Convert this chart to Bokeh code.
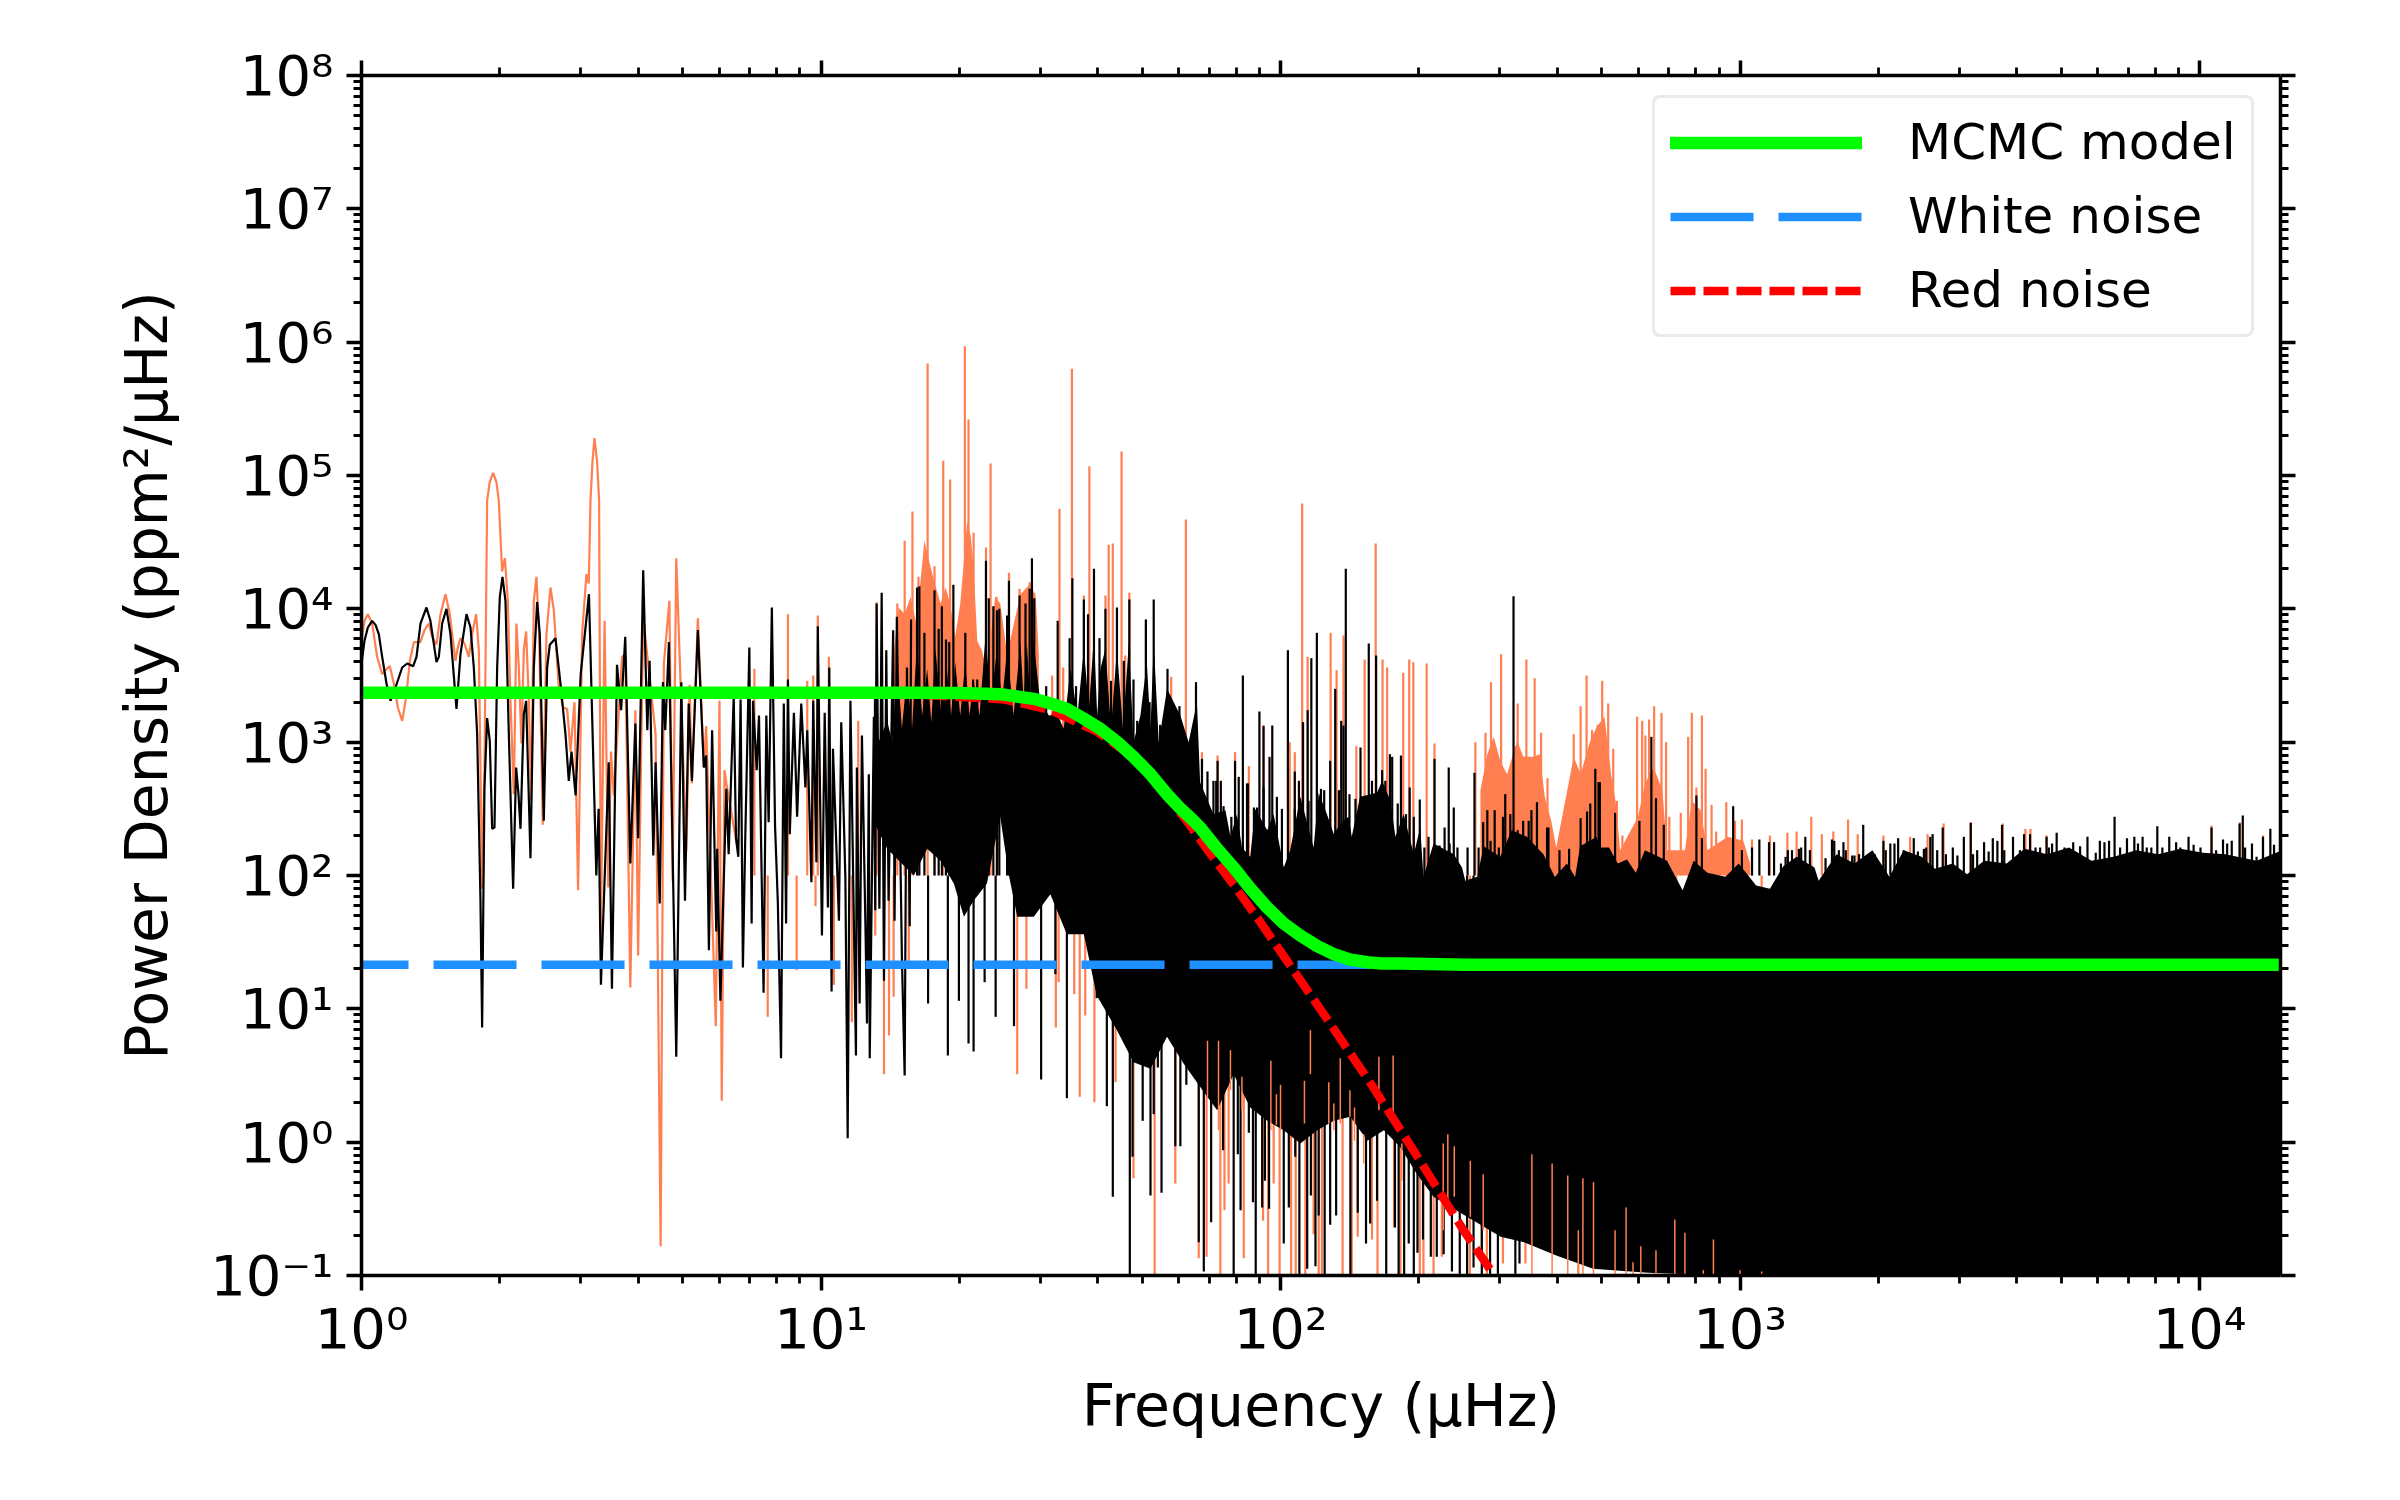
import numpy as np
from bokeh.embed import file_html
from bokeh.models import FixedTicker, Legend, LegendItem, LogAxis
from bokeh.plotting import figure
from bokeh.resources import INLINE

# everything, as log10(frequency) and log10(power)

# low frequency part of the raw spectrum, drawn as a line
coral_line_logf = [0, .0065, .0138, .0232, .0341, .045, .0522, .0617, .0704, .0791, .0885, .0972, .1052, .114, .128, .1371, .1465, .1537, .1632, .1719, .1828, .1922, .2045, .2096, .2154, .2241, .2335, .2408, .2495, .2553, .2625, .2676, .2734, .279, .2865, .2937, .2988, .306, .312, .3184, .3242, .3314, .3372, .3423, .3481, .3532, .3583, .3641, .3692, .375, .3808, .3866, .3945, .4025, .4112, .4185, .4294, .4388, .4475, .4548, .4635, .4714, .4801, .4895, .4946, .4983, .5026, .507, .5128, .5171, .521,
                   .529, .537, .543, .549, .567, .574, .585, .596, .602, .613, .640, .651, .658, .670, .677, .685, .707, .714, .719, .732, .745, .750, .771, .779, .784, .790, .794, .819]
coral_line_logp = [3.76, 3.91, 3.96, 3.89, 3.64, 3.51, 3.54, 3.57, 3.44, 3.26, 3.16, 3.34, 3.61, 3.75, 3.75, 3.84, 3.89, 3.79, 3.73, 3.96, 4.11, 3.96, 3.61, 3.71, 3.78, 3.74, 3.64, 3.81, 3.96, 3.69, 1.90, 2.81, 4.81, 4.95, 5.02, 4.95, 4.81, 4.28, 4.38, 4.06, 3.31, 2.61, 3.89, 3.56, 2.99, 3.69, 3.83, 3.31, 2.56, 4.06, 4.24, 3.81, 2.38, 3.81, 4.16, 3.99, 3.41, 3.26, 3.25, 2.93, 3.30, 1.89, 3.81, 4.26, 4.19, 4.81, 5.1, 5.28, 5.1, 4.81, 1.56,
                   3.91, 1.91, 2.93, 2.60, 3.64, 3.66, 1.16, 3.24, 1.40, 3.94, 3.06, -.78, 3.59, 4.06, 1.96, 4.38, 2.18, 3.43, 2.69, 3.93, 2.81, 3.12, .87, 3.31, .31, 2.79, 2.69, 2.19]

# corrected spectrum at low frequency
black_line_logf = [0, .0065, .0138, .0232, .0305, .0377, .045, .0544, .0631, .074, .0885, .0994, .1124, .1197, .1284, .1414, .150, .1632, .1683, .1755, .1849, .1936, .2067, .2154, .2285, .2372, .2444, .2517, .2589, .2625, .2676, .2734, .2792, .2843, .2894, .2952, .301, .3068, .3133, .3206, .33, .3365, .3416, .346, .3532, .3583, .3677, .375, .3822, .388, .3967, .404, .4098, .4221, .433, .4439, .4511,
                   .457, .466, .477, .495, .511, .516, .521, .538, .545, .556, .565, .574, .585, .596, .602, .613, .622, .627, .635, .640, .649, .656, .661, .669, .685, .696, .704, .712, .719, .732, .745, .750, .756, .763, .772, .774, .781, .794, .799, .810, .815, .820, .825, .830, .835, .844, .849, .852, .860, .865, .875, .881, .886, .893, .900, .906, .913, .919, .924, .928, .932, .941, .948, .957, .966, .970, .979, .983, .990, .993, 1.002, 1.008, 1.015, 1.018, 1.023, 1.026, 1.039, 1.044, 1.053, 1.058, 1.064, 1.076, 1.078, 1.084, 1.089, 1.097, 1.100, 1.104, 1.106, 1.115, 1.118, 1.121, 1.127, 1.132, 1.137, 1.142, 1.147, 1.157, 1.160, 1.165, 1.176, 1.182, 1.187, 1.193, 1.196]
black_line_logp = [3.59, 3.76, 3.86, 3.91, 3.88, 3.81, 3.64, 3.44, 3.31, 3.41, 3.56, 3.59, 3.57, 3.64, 3.89, 4.01, 3.91, 3.60, 3.64, 3.89, 4.00, 3.81, 3.25, 3.66, 3.96, 3.86, 3.56, 3.06, 1.81, .86, 2.66, 3.18, 3.01, 2.35, 2.36, 3.56, 4.09, 4.24, 4.06, 3.06, 1.90, 2.81, 2.61, 2.35, 3.21, 3.31, 2.13, 3.56, 4.05, 3.81, 2.41, 3.56, 3.73, 3.78, 3.44, 3.06, 2.71,
                   2.93, 2.60, 3.51, 4.11, 2.00, 2.50, 1.18, 2.85, 1.15, 3.58, 3.24, 3.79, 2.09, 3.14, 2.28, 4.29, 3.09, 3.61, 2.15, 2.85, 1.79, 3.45, 3.09, 3.75, .64, 3.45, 1.81, 3.29, 2.71, 3.84, 2.81, 2.90, 1.44, 3.09, 1.58, 2.20, 1.06, 2.65, 2.16, 3.34, 2.28, 2.14, 3.32, 1.31, 2.26, 3.71, 1.64, 3.31, 2.79, 3.20, 1.12, 3.20, 2.40, 4.01, 2.37, 1.80, .63, 3.29, 1.64, 3.47, 2.31, 3.22, 2.44, 3.29, 2.66, 3.09, 1.95, 3.31, 2.10, 3.87, 1.55, 3.22, 1.76, 3.56, 1.13, 2.95, 1.66, 3.15, 1.98, .03, 3.31, .65, 2.81, 1.04, 3.05, 1.56, .89, 2.76, .63, 3.19, 1.74, 4.04, 1.75, 4.12, 1.21, 3.69, 1.81, 3.84, 1.66, 3.94, 1.39, .50, 3.56, 1.62, 3.92]

# solid black mass, upper edge then lower edge
black_top_logf = [1.115, 1.125, 1.144, 1.155, 1.166, 1.176, 1.187, 1.198, 1.209, 1.22, 1.231, 1.24, 1.249, 1.262, 1.274, 1.283, 1.292, 1.303, 1.314, 1.323, 1.332, 1.345, 1.358, 1.37, 1.383, 1.394, 1.405, 1.419, 1.434, 1.441, 1.448, 1.455, 1.463, 1.477, 1.496, 1.514, 1.528, 1.543, 1.558, 1.572, 1.583, 1.594, 1.601, 1.608, 1.619, 1.631, 1.644, 1.657, 1.670, 1.680, 1.695, 1.709, 1.717, 1.724, 1.735, 1.753, 1.782, 1.80, 1.818, 1.825,
                  1.854, 1.880, 1.891, 1.905, 1.916, 1.934, 1.945, 1.971, 1.985, 2.007, 2.021, 2.043, 2.072, 2.083, 2.101, 2.116, 2.130, 2.148, 2.155, 2.173, 2.210, 2.221, 2.239, 2.250, 2.268, 2.290, 2.304, 2.311, 2.333, 2.377, 2.395, 2.402, 2.428, 2.442, 2.478, 2.503, 2.536, 2.572, 2.597, 2.623, 2.641, 2.652, 2.688, 2.695, 2.715, 2.734, 2.754, 2.773, 2.793, 2.841, 2.875, 2.899, 2.929, 2.968, 2.997, 3.035, 3.065, 3.094, 3.123, 3.162, 3.171, 3.21, 3.249, 3.288, 3.325, 3.356, 3.395, 3.424, 3.463, 3.494, 3.531, 3.58, 3.619, 3.668, 3.716, 3.765, 3.813, 3.862, 3.91, 3.958, 4.007, 4.056, 4.124, 4.18]
black_top_logp = [3.41, 3.0, 3.16, 3.0, 3.6, 3.1, 3.5, 3.1, 3.75, 3.2, 3.55, 3.15, 3.7, 3.2, 3.55, 3.2, 3.6, 3.2, 3.6, 3.2, 3.46, 3.2, 3.8, 3.3, 3.7, 3.3, 3.7, 3.2, 3.75, 3.3, 3.75, 3.3, 3.75, 3.3, 3.2, 3.21, 3.1, 3.55, 3.2, 3.7, 3.25, 3.8, 3.2, 3.55, 3.7, 3.1, 3.7, 3.1, 3.75, 3.0, 3.2, 3.6, 3.1, 3.75, 3.0, 3.4, 3.2, 3.0, 3.3, 2.7,
                  2.46, 2.49, 2.29, 2.46, 2.21, 2.14, 2.50, 2.34, 2.46, 2.06, 2.19, 2.59, 2.21, 2.62, 2.46, 2.31, 2.39, 2.44, 2.29, 2.59, 2.62, 2.71, 2.56, 2.29, 2.46, 2.16, 2.36, 1.99, 2.24, 2.16, 2.06, 1.96, 1.99, 2.22, 2.14, 2.34, 2.29, 2.16, 1.99, 2.09, 1.99, 2.22, 2.29, 2.21, 2.21, 2.09, 2.12, 2.02, 2.19, 2.11, 1.89, 2.11, 2.02, 1.99, 2.09, 1.925, 1.90, 2.07, 2.14, 2.06, 1.96, 2.16, 2.09, 2.19, 1.99, 2.19, 2.14, 2.05, 2.09, 2.01, 2.11, 2.09, 2.20, 2.16, 2.21, 2.11, 2.14, 2.19, 2.16, 2.20, 2.17, 2.16, 2.11, 2.19]
black_bottom_logf = [1.115, 1.144, 1.173, 1.202, 1.231, 1.26, 1.289, 1.311, 1.332, 1.361, 1.39, 1.409, 1.427, 1.463, 1.499, 1.535, 1.572, 1.6, 1.644, 1.680, 1.717, 1.753, 1.789, 1.826, 1.862, 1.898, 1.934, 1.971, 2.007, 2.043, 2.08, 2.116, 2.152, 2.189, 2.225, 2.261, 2.297, 2.333, 2.406, 2.479, 2.53, 2.6, 2.68, 2.8, 2.95, 3.10, 4.18]
black_bottom_logp = [2.4, 2.2, 2.1, 2.0, 2.2, 2.11, 1.94, 1.69, 1.81, 1.94, 2.44, 2.0, 1.69, 1.69, 1.86, 1.56, 1.56, 1.1, .84, .6, .55, .79, .59, .41, .24, .51, .26, .16, .09, -.01, .09, .16, .19, .01, .09, -.04, -.24, -.41, -.56, -.71, -.75, -.85, -.95, -.98, -1.0, -1.02, -1.02]

# single peaks standing above it
black_peak_logf = [1.209, 1.214, 1.225, 1.247, 1.256, 1.263, 1.272, 1.279, 1.288, 1.314, 1.331, 1.34, 1.359, 1.365, 1.375, 1.383, 1.388, 1.405, 1.409, 1.432, 1.445, 1.454, 1.459, 1.464, 1.490, 1.515, 1.541, 1.547, 1.555, 1.572, 1.581, 1.594, 1.606, 1.619, 1.631, 1.644, 1.659, 1.671, 1.680, 1.688, 1.707, 1.715, 1.724, 1.738, 1.754, 1.780, 1.788, 1.795, 1.816, 1.829, 1.841, 1.854, 1.863, 1.870, 1.901, 1.918, 1.929, 1.954, 1.963, 1.982, 2.016, 2.031, 2.049, 2.059, 2.067, 2.079, 2.108, 2.119, 2.132, 2.142, 2.174, 2.192, 2.208, 2.238, 2.262, 2.281, 2.303, 2.335, 2.366, 2.377, 2.422, 2.45, 2.466, 2.489, 2.507, 2.528, 2.546, 2.558, 2.583, 2.674, 2.685, 2.695, 2.728, 2.781, 2.807, 2.817, 2.834, 2.905, 2.917, 2.985, 3.042, 3.063, 3.074, 3.104, 3.133, 3.142, 3.2, 3.205, 3.225, 3.249, 3.268, 3.312, 3.336, 3.344, 3.378, 3.405, 3.419, 3.441, 3.463, 3.487, 3.502, 3.531, 3.55, 3.570, 3.594, 3.618, 3.631, 3.653, 3.667, 3.679, 3.689, 3.725, 3.756, 3.783, 3.803, 3.815, 3.842, 3.858, 3.876, 3.895, 3.908, 3.934, 3.949, 3.976, 4.002, 4.026, 4.051, 4.07, 4.087, 4.094, 4.114, 4.138, 4.154]
black_peak_logp = [4.16, 4.17, 3.82, 4.14, 3.85, 4.02, 3.77, 3.75, 4.18, 3.82, 3.47, 3.47, 4.36, 4.08, 4.02, 3.99, 4.00, 3.95, 4.21, 4.10, 4.04, 4.15, 4.38, 4.08, 3.42, 3.91, 3.78, 4.23, 3.42, 4.07, 3.96, 4.30, 3.78, 4.00, 3.46, 4.01, 3.61, 4.07, 3.47, 3.16, 3.92, 3.30, 4.07, 3.13, 3.55, 3.27, 3.05, 2.95, 3.45, 2.875, 2.78, 2.71, 2.86, 2.71, 2.86, 3.50, 2.69, 3.23, 3.12, 3.125, 3.69, 2.78, 3.15, 3.24, 3.63, 3.82, 2.86, 3.40, 3.16, 4.30, 2.96, 3.74, 3.65, 2.91, 2.90, 2.66, 2.57, 2.875, 2.81, 2.51, 2.77, 2.49, 2.49, 2.61, 4.095, 2.41, 2.49, 2.55, 2.36, 2.54, 2.80, 2.70, 2.47, 2.41, 3.04, 2.58, 2.38, 2.60, 2.28, 2.52, 2.27, 2.25, 2.25, 2.19, 2.21, 2.29, 2.27, 2.26, 2.25, 2.15, 2.38, 2.26, 2.24, 2.28, 2.28, 2.21, 2.31, 2.36, 2.21, 2.29, 2.395, 2.25, 2.28, 2.38, 2.29, 2.31, 2.31, 2.21, 2.29, 2.24, 2.32, 2.25, 2.29, 2.26, 2.26, 2.44, 2.28, 2.29, 2.29, 2.21, 2.37, 2.29, 2.25, 2.29, 2.21, 2.36, 2.27, 2.26, 2.39, 2.45, 2.24, 2.29, 2.35]

# the finer comb of small teeth along the top of the mass
black_comb_logf = [1.833, 1.847, 1.860, 1.876, 1.893, 1.909, 1.927, 1.942, 1.949, 1.963, 1.976, 1.992, 2.003, 2.031, 2.040, 2.061, 2.072, 2.088, 2.095, 2.127, 2.137, 2.150, 2.163, 2.181, 2.199, 2.221, 2.228, 2.243, 2.255, 2.273, 2.290, 2.313, 2.322, 2.346, 2.357, 2.368, 2.385, 2.407, 2.431, 2.441, 2.457, 2.475, 2.484, 2.500, 2.516, 2.540, 2.580, 2.607, 2.628, 2.653, 2.667, 2.692,
                   3.004, 3.026, 3.089, 3.099, 3.113, 3.128, 3.152, 3.186, 3.215, 3.230, 3.244, 3.259, 3.278, 3.293, 3.317, 3.327, 3.356, 3.387, 3.400, 3.414, 3.429, 3.448, 3.473, 3.507, 3.516, 3.541, 3.560, 3.575, 3.609, 3.643, 3.672, 3.706, 3.74, 3.774, 3.793, 3.827, 3.866, 3.885, 3.919, 3.958, 3.987, 4.036, 4.06, 4.099, 4.124, 4.162]
black_comb_logp = [2.41, 2.41, 2.71, 2.52, 2.44, 2.74, 2.69, 2.51, 2.51, 2.66, 2.89, 2.59, 2.50, 2.50, 2.71, 2.56, 2.19, 2.65, 2.64, 2.64, 3.125, 2.61, 2.575, 2.59, 2.71, 2.79, 2.71, 2.89, 2.54, 2.46, 2.44, 2.21, 2.29, 2.225, 2.36, 2.24, 2.21, 2.21, 2.21, 2.40, 2.26, 2.21, 2.44, 2.46, 2.34, 2.41, 2.36, 2.19, 2.20, 2.43, 2.48, 2.70,
                   2.19, 2.21, 2.09, 2.14, 2.19, 2.20, 2.19, 2.13, 2.19, 2.19, 2.15, 2.16, 2.09, 2.16, 2.19, 2.24, 2.19, 2.18, 2.20, 2.29, 2.19, 2.16, 2.15, 2.16, 2.19, 2.18, 2.26, 2.19, 2.19, 2.21, 2.21, 2.21, 2.22, 2.17, 2.25, 2.21, 2.24, 2.21, 2.21, 2.21, 2.23, 2.19, 2.24, 2.21, 2.14, 2.23]

# single troughs hanging below it
black_dip_logf = [1.233, 1.276, 1.300, 1.321, 1.332, 1.356, 1.38, 1.42, 1.479, 1.51, 1.535, 1.6,
                  1.622, 1.635, 1.672, 1.678, 1.700, 1.717, 1.724, 1.733, 1.741, 1.771, 1.782, 1.795, 1.822, 1.833, 1.849, 1.875, 1.898, 1.907, 1.913, 1.931, 1.940, 1.946, 1.960, 1.966, 1.975, 2.007, 2.018, 2.032, 2.041, 2.058, 2.066, 2.076, 2.083, 2.096, 2.108, 2.121, 2.152, 2.168, 2.186, 2.195, 2.210, 2.230, 2.249, 2.257, 2.269, 2.279, 2.290, 2.298, 2.310, 2.327, 2.340, 2.355, 2.373, 2.390, 2.406, 2.420, 2.438,
                  2.456, 2.473, 2.511, 2.52]
black_dip_logp = [1.04, .65, 1.06, .74, .68, 1.20, .94, .87, .47, 1.26, .33, 1.08,
                  .27, -.41, -1.1, -.11, .16, -.40, .21, .56, -.38, -.03, -.03, .43, -.75, -.97, -.60, -.06, -1.1, -.09, -.51, .07, -.45, -1.1, -.49, -.29, -.50, -.76, -.49, -.11, -1.1, -.95, -.40, -.93, -.55, -1.1, -.62, -.55, -1.1, -.53, -.76, -.61, -.44, -1.1, -.64, -1.1, -1.1, -.76, -1.1, -.83, -.73, -.86, -.86, -.84, -.97, -1.1, -1.1, -.94, -1.1,
                  -1.1, -1.1, -1.1, -.91]

# raw spectrum: two stretches of solid humps, peaks and troughs
coral_hump_logf = [1.158, 1.169, 1.182, 1.195, 1.206, 1.216, 1.225, 1.235, 1.246, 1.26, 1.271, 1.281, 1.292, 1.303, 1.3105, 1.318, 1.326, 1.332, 1.340, 1.35, 1.361, 1.379, 1.39, 1.405, 1.434, 1.456, 1.467, 1.474]
coral_hump_logp = [3.66, 4.01, 3.96, 4.09, 3.91, 4.19, 4.51, 4.36, 4.21, 4.04, 4.16, 4.04, 3.79, 4.04, 4.34, 4.66, 4.54, 4.31, 3.76, 3.69, 3.54, 4.09, 4.04, 3.66, 4.11, 4.19, 4.09, 3.66]
coral_bump_logf = [2.435, 2.45, 2.464, 2.478, 2.493, 2.515, 2.528, 2.55, 2.564, 2.575, 2.589, 2.6, 2.638, 2.653, 2.674, 2.689, 2.705, 2.72, 2.729, 2.739, 2.778, 2.793, 2.812, 2.831, 2.841, 2.88, 2.895, 2.914, 2.929, 2.973, 3.007, 3.022]
coral_bump_logp = [2.64, 2.91, 3.04, 2.86, 2.76, 3.01, 2.89, 2.89, 2.91, 2.59, 2.41, 2.21, 2.89, 2.76, 3.01, 3.12, 3.19, 2.74, 2.56, 2.19, 2.44, 2.69, 2.81, 2.64, 2.19, 2.19, 2.56, 2.49, 2.19, 2.29, 2.26, 2.09]
coral_peak_logf = [.855, .928, .970, .983, .993, 1.017, 1.081, 1.121, 1.166, 1.182, 1.199, 1.212, 1.232, 1.247, 1.266, 1.281, 1.313, 1.321, 1.332, 1.359, 1.369, 1.382, 1.409, 1.432, 1.454, 1.464, 1.503, 1.519, 1.527, 1.546, 1.572, 1.584, 1.619, 1.626, 1.635, 1.654, 1.662, 1.671, 1.707, 1.762, 1.794, 1.8, 1.829, 1.863, 1.901, 1.931, 1.963, 2.020, 2.031, 2.047, 2.059, 2.109, 2.122, 2.137, 2.165, 2.183, 2.207, 2.222, 2.232, 2.267, 2.280, 2.289, 2.318, 2.335, 2.424, 2.446, 2.458, 2.480, 2.511, 2.516, 2.535, 2.553, 2.567, 2.581, 2.638, 2.653, 2.666, 2.678, 2.690, 2.70, 2.713, 2.724, 2.732, 2.744, 2.761, 2.776, 2.787, 2.794, 2.802, 2.813, 2.829, 2.839, 2.846, 2.871, 2.887, 2.895, 2.905, 2.917, 2.925, 2.938, 2.948, 2.97, 2.989, 3.004, 3.026, 3.065, 3.103, 3.123, 3.155, 3.178, 3.203, 3.235, 3.256, 3.312, 3.370, 3.408, 3.443, 3.502, 3.572, 3.621, 3.632, 3.667, 4.026, 4.088, 4.138]
coral_peak_logp = [3.55, 3.96, 3.46, 3.50, 3.95, 3.64, 3.16, 4.05, 4.04, 4.51, 4.73, 4.24, 5.84, 4.32, 5.11, 4.97, 5.97, 5.42, 4.57, 4.46, 5.09, 4.09, 4.27, 4.15, 4.20, 4.12, 3.50, 4.75, 3.56, 5.80, 4.10, 5.07, 4.10, 4.48, 4.49, 5.18, 3.65, 4.12, 3.92, 3.49, 4.67, 3.00, 2.925, 2.90, 2.925, 2.82, 3.13, 3.00, 2.925, 4.79, 3.64, 3.82, 3.54, 3.80, 2.97, 3.62, 4.49, 3.62, 3.56, 3.52, 3.62, 3.60, 3.59, 2.99, 3.00, 3.07, 3.45, 3.66, 2.97, 3.29, 3.62, 3.48, 3.07, 2.73, 3.06, 3.27, 3.50, 3.09, 3.13, 3.46, 3.29, 2.95, 2.56, 2.30, 2.22, 3.19, 3.16, 3.05, 3.17, 3.27, 3.22, 3.00, 2.44, 2.47, 3.04, 3.22, 2.66, 3.20, 2.80, 2.53, 2.33, 2.55, 2.41, 2.42, 2.27, 2.30, 2.32, 2.33, 2.44, 2.31, 2.33, 2.42, 2.31, 2.30, 2.29, 2.31, 2.39, 2.40, 2.39, 2.35, 2.35, 2.30, 2.375, 2.40, 2.30]
coral_dip_logf = [.884, .947, .988, 1.028, 1.067, 1.118, 1.137, 1.148, 1.158, 1.191, 1.427, 1.447, 1.511, 1.517, 1.551, 1.563, 1.575, 1.595,
                  1.641, 1.680, 1.726, 1.771, 1.822, 1.839, 1.869, 1.878, 1.887, 1.920, 1.962, 1.973, 1.985, 1.998, 2.023, 2.033, 2.054, 2.072, 2.083, 2.09, 2.135, 2.155, 2.168, 2.199, 2.211, 2.247, 2.261, 2.303, 2.311, 2.333, 2.351, 2.412, 2.438, 2.449,
                  2.484, 2.533, 2.648, 2.767, 2.861, 2.923, 3.0, 3.047]
coral_dip_logp = [.94, 1.29, 1.77, 1.18, .90, 1.55, .51, .80, 1.09, 1.31, .51, 1.15, .86, 1.20, 1.11, .34, .95, .30,
                  .45, -.27, -1.1, -.31, -.87, -.86, -1.1, -.51, -.31, -.87, -.59, -1.1, -.31, -1.1, -1.1, -1.1, -1.1, -.69, -1.1, -1.1, -1.1, -1.1, -.71, -.73, -1.1, -.64, -1.1, -1.1, -1.1, -1.1, -.86, -1.1, -.89, -1.1,
                  -.91, -.91, -1.1, -.90, -.91, -1.1, -.96, -.97]

# thin coral slits showing through the underside of the black mass
coral_slit_logf = [1.841, 1.865, 1.891, 1.916, 1.979, 1.991, 2.0, 2.052, 2.065, 2.105, 2.116, 2.13, 2.151, 2.161, 2.181, 2.214, 2.245, 2.264, 2.354, 2.364, 2.378, 2.413, 2.441,
                   2.547, 2.591, 2.625, 2.658, 2.681, 2.648, 2.728, 2.752, 2.767, 2.784, 2.817, 2.858, 2.880, 2.920, 2.942, 3.0, 3.047]
coral_slit_top = [.76, .76, .69, .49, .61, .36, .43, .46, .84, .45, .29, .63, .39, .26, .06, .64, .65, -.01, -.01, .06, -.03, -.14, -.24,
                  -.09, -.16, -.25, -.27, -.30, -.66, -.66, -.49, -.90, -.78, -.81, -.58, -.68, -.96, -.73, -.96, -.97]
coral_slit_low = [.34, .09, .39, .24, .09, .13, .09, .14, .51, .14, .09, .14, .19, .01, -.16, .24, .19, -.29, -.66, -.46, -.41, -.56, -.66,
                  -1.1, -1.1, -1.1, -1.1, -1.1, -1.1, -1.1, -1.1, -1.1, -1.1, -1.1, -1.1, -1.1, -1.1, -1.1, -1.1, -1.1]

# fitted model and its two parts
model_logf = [0, .955, 1.2, 1.3, 1.39, 1.463, 1.5, 1.535, 1.57, 1.608, 1.645, 1.68, 1.717, 1.753, 1.78, 1.811, 1.825, 1.86, 1.898, 1.935, 1.971, 2.007, 2.043, 2.08, 2.116, 2.15, 2.188, 2.22, 2.26, 2.406, 2.696, 4.18]
model_logp = [3.37, 3.37, 3.37, 3.368, 3.36, 3.325, 3.29, 3.25, 3.18, 3.10, 3.0, 2.89, 2.76, 2.61, 2.51, 2.41, 2.36, 2.21, 2.06, 1.90, 1.76, 1.64, 1.55, 1.47, 1.41, 1.37, 1.35, 1.34, 1.34, 1.33, 1.33, 1.33]
white_logf = [-.0783, 4.18]
white_logp = [1.33, 1.33]
red_logf = [0, 1.2, 1.4, 1.5, 1.6, 1.7, 1.8, 1.85, 1.9, 1.95, 2.0, 2.1, 2.2, 2.3, 2.4, 2.465, 2.6]
red_logp = [3.37, 3.36, 3.32, 3.24, 3.08, 2.84, 2.39, 2.15, 1.92, 1.68, 1.43, .93, .42, -.12, -.67, -1.0, -1.7]

x_tick_values = [1.0, 10.0, 100.0, 1000.0, 10000.0]
x_tick_labels = ["10⁰", "10¹", "10²", "10³", "10⁴"]
y_tick_values = [0.1, 1.0, 10.0, 100.0, 1000.0, 10000.0, 100000.0, 1000000.0, 10000000.0, 100000000.0]
y_tick_labels = ["10⁻¹", "10⁰", "10¹", "10²", "10³", "10⁴", "10⁵", "10⁶", "10⁷", "10⁸"]

def pw(values):
    return 10.0 ** np.array(values)

FONT = "DejaVu Sans"
CORAL = "#FF7F50"
LINE = 2.2

p = figure(frame_width=1919, frame_height=1200, x_axis_type="log", y_axis_type="log",
           x_range=(1, 15000), y_range=(0.1, 1e8), output_backend="svg", toolbar_location=None,
           min_border_left=361, min_border_right=104, min_border_top=75, min_border_bottom=209,
           x_axis_label="Frequency (μHz)", y_axis_label="Power Density (ppm²/μHz)")
p.grid.visible = False
p.outline_line_color = None

x_minor = [m * t for t in x_tick_values for m in range(2, 10) if m * t < 15000]
y_minor = [m * t for t in y_tick_values[:-1] for m in range(2, 10)]

def style_axis(ax, ticks, minor):
    ax.ticker = FixedTicker(ticks=ticks, minor_ticks=minor)
    ax.axis_line_width = 3.5
    ax.axis_line_color = "black"
    ax.major_tick_line_width = 3.5
    ax.minor_tick_line_width = 2.8
    ax.major_tick_in = 0
    ax.major_tick_out = 15
    ax.minor_tick_in = 0
    ax.minor_tick_out = 8

for ax, ticks, minor, labels in ((p.xaxis[0], x_tick_values, x_minor, x_tick_labels),
                                 (p.yaxis[0], y_tick_values, y_minor, y_tick_labels)):
    style_axis(ax, ticks, minor)
    ax.major_label_overrides = dict(zip(ticks, labels))
    ax.major_label_text_font = FONT
    ax.major_label_text_font_size = "56px"
    ax.major_label_text_color = "black"
    ax.axis_label_text_font = FONT
    ax.axis_label_text_font_size = "58.5px"
    ax.axis_label_text_font_style = "normal"
    ax.axis_label_text_color = "black"
p.xaxis[0].major_label_standoff = 5
p.xaxis[0].axis_label_standoff = 8
p.yaxis[0].major_label_standoff = 13
p.yaxis[0].axis_label_standoff = 26

top_axis = LogAxis(major_label_text_color=None)
style_axis(top_axis, x_tick_values, x_minor)
p.add_layout(top_axis, "above")
right_axis = LogAxis(major_label_text_color=None)
style_axis(right_axis, y_tick_values, y_minor)
p.add_layout(right_axis, "right")

BASE = 100.0

# raw spectrum
p.line(pw(coral_line_logf), pw(coral_line_logp), line_color=CORAL, line_width=LINE)
p.patch(pw(coral_hump_logf + coral_hump_logf[::-1]), pw(coral_hump_logp + [3.0] * len(coral_hump_logf)), color=CORAL, line_width=0)
p.patch(pw(coral_bump_logf + coral_bump_logf[::-1]), pw(coral_bump_logp + [2.0] * len(coral_bump_logf)), color=CORAL, line_width=0)
p.segment(pw(coral_peak_logf), BASE, pw(coral_peak_logf), pw(coral_peak_logp), line_color=CORAL, line_width=LINE)
p.segment(pw(coral_dip_logf), pw(coral_dip_logp), pw(coral_dip_logf), BASE, line_color=CORAL, line_width=LINE)

# corrected spectrum
p.line(pw(black_line_logf), pw(black_line_logp), line_color="black", line_width=LINE)
p.patch(pw(black_top_logf + black_bottom_logf[::-1]), pw(black_top_logp + black_bottom_logp[::-1]), color="black", line_width=0)
p.segment(pw(black_peak_logf), BASE, pw(black_peak_logf), pw(black_peak_logp), line_color="black", line_width=LINE)
p.segment(pw(black_comb_logf), BASE, pw(black_comb_logf), pw(black_comb_logp), line_color="black", line_width=LINE)
p.segment(pw(black_dip_logf), pw(black_dip_logp), pw(black_dip_logf), BASE, line_color="black", line_width=LINE)
p.segment(pw(coral_slit_logf), pw(coral_slit_low), pw(coral_slit_logf), pw(coral_slit_top), line_color=CORAL, line_width=1.5)

white = p.line(pw(white_logf), pw(white_logp), line_color="#1E90FF", line_width=8.5, line_dash="83 25")
red = p.line(pw(red_logf), pw(red_logp), line_color="#FF0000", line_width=8.5, line_dash="25 8")
model = p.line(pw(model_logf), pw(model_logp), line_color="#00FF00", line_width=12.5, line_cap="square")

legend = Legend(items=[LegendItem(label="MCMC model", renderers=[model]),
                       LegendItem(label="White noise", renderers=[white]),
                       LegendItem(label="Red noise", renderers=[red])],
                location=(1291, 938), orientation="vertical", margin=0, padding=15, spacing=16,
                glyph_width=192, glyph_height=55, label_standoff=46, label_height=55,
                label_text_font=FONT, label_text_font_size="50px", label_text_color="black",
                border_line_color="#D5D5D5", border_line_width=3.5, border_radius=8,
                background_fill_color="white", background_fill_alpha=0.8)
p.add_layout(legend)

open("out.html", "w").write(file_html(p, INLINE))
